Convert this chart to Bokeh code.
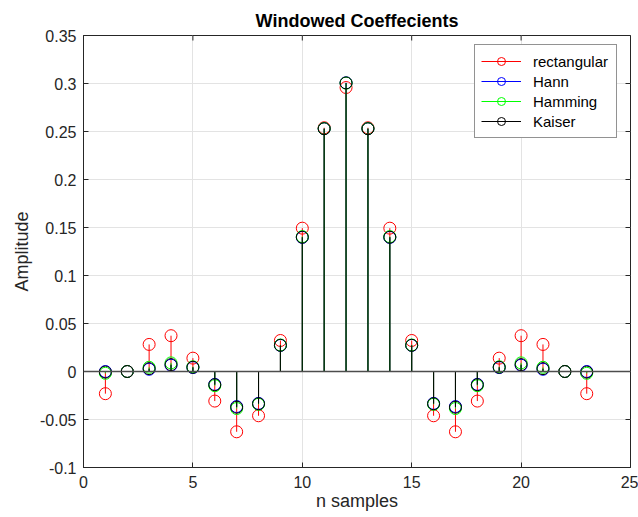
import math
from bokeh.plotting import figure
from bokeh.models import (Range1d, FixedTicker, Span, Legend, LegendItem,
                          CustomJSTickFormatter)
from bokeh.embed import file_html
from bokeh.resources import INLINE

# ---- data ----
n = list(range(1, 24))
rectangular = [-0.0231, 0.0, 0.0282, 0.0373, 0.0139, -0.0308, -0.0628, -0.0461, 0.0323, 0.1493, 0.2539, 0.2958,
               0.2539, 0.1493, 0.0323, -0.0461, -0.0628, -0.0308, 0.0139, 0.0373, 0.0282, 0.0, -0.0231]
hann = [0.0, 0.0, 0.0023, 0.0065, 0.0041, -0.0134, -0.0365, -0.0332, 0.0272, 0.1397, 0.2529, 0.3007,
        0.2529, 0.1397, 0.0272, -0.0332, -0.0365, -0.0134, 0.0041, 0.0065, 0.0023, 0.0, 0.0]
hamming = [-0.0019, 0.0, 0.0044, 0.0090, 0.0049, -0.0148, -0.0386, -0.0342, 0.0276, 0.1405, 0.2530, 0.3004,
           0.2530, 0.1405, 0.0276, -0.0342, -0.0386, -0.0148, 0.0049, 0.0090, 0.0044, 0.0, -0.0019]
kaiser = [-0.0006, 0.0, 0.0030, 0.0072, 0.0044, -0.0138, -0.0372, -0.0336, 0.0273, 0.1399, 0.2529, 0.3006,
          0.2529, 0.1399, 0.0273, -0.0336, -0.0372, -0.0138, 0.0044, 0.0072, 0.0030, 0.0, -0.0006]
series_names = ["rectangular", "Hann", "Hamming", "Kaiser"]
series_values = [rectangular, hann, hamming, kaiser]
series_colors = ["#ff0000", "#0000ff", "#00ff00", "#000000"]

xticks = [0, 5, 10, 15, 20, 25]
xtick_labels = ["0", "5", "10", "15", "20", "25"]
yticks = [-0.1, -0.05, 0, 0.05, 0.1, 0.15, 0.2, 0.25, 0.3, 0.35]
ytick_labels = ["-0.1", "-0.05", "0", "0.05", "0.1", "0.15", "0.2", "0.25", "0.3", "0.35"]
x_limits = (0, 25)
y_limits = (-0.1, 0.35)

FONT = "Liberation Sans"
AX = "#262626"

p = figure(width=638, height=517, output_backend="svg", toolbar_location=None,
           x_range=Range1d(*x_limits), y_range=Range1d(*y_limits),
           min_border_left=83, min_border_right=8, min_border_top=35, min_border_bottom=50,
           title="Windowed Coeffecients")
p.background_fill_color = "white"
p.border_fill_color = "white"
p.outline_line_color = AX
p.outline_line_width = 1

p.title.text_font = FONT
p.title.text_font_size = "18px"
p.title.text_font_style = "bold"
p.title.align = "center"
p.title.text_color = "#000000"

fmt_code = """
const i = vals.findIndex(v => Math.abs(v - tick) < 1e-9);
return i >= 0 ? labs[i] : '';
"""
xfmt = CustomJSTickFormatter(args=dict(vals=xticks, labs=xtick_labels), code=fmt_code)
yfmt = CustomJSTickFormatter(args=dict(vals=yticks, labs=ytick_labels), code=fmt_code)

for ax, ticks, fmt in ((p.xaxis[0], xticks, xfmt), (p.yaxis[0], yticks, yfmt)):
    ax.ticker = FixedTicker(ticks=ticks)
    ax.formatter = fmt
    ax.major_tick_in = 5
    ax.major_tick_out = 0
    ax.minor_tick_line_color = None
    ax.axis_line_color = AX
    ax.major_tick_line_color = AX
    ax.major_label_text_font = FONT
    ax.major_label_text_font_size = "16px"
    ax.major_label_text_color = AX
    ax.axis_label_text_font = FONT
    ax.axis_label_text_font_size = "18px"
    ax.axis_label_text_font_style = "normal"
    ax.axis_label_text_color = AX

p.xaxis[0].axis_label = "n samples"
p.yaxis[0].axis_label = "Amplitude"
p.xaxis[0].major_label_standoff = 8
p.xaxis[0].axis_label_standoff = 0
p.yaxis[0].major_label_standoff = 7
p.yaxis[0].axis_label_standoff = 5

p.xgrid.ticker = FixedTicker(ticks=xticks)
p.ygrid.ticker = FixedTicker(ticks=yticks)
p.grid.grid_line_color = "#e3e3e3"
p.grid.grid_line_width = 1

# inward box ticks on the top and right edges (half of each dash is clipped by the frame)
p.scatter(x=xticks, y=[y_limits[1]] * len(xticks), marker="dash", angle=math.pi / 2,
          size=10, line_color=AX, line_width=1)
p.scatter(x=[x_limits[1]] * len(yticks), y=yticks, marker="dash",
          size=10, line_color=AX, line_width=1)

# baseline
p.add_layout(Span(location=0, dimension="width", line_color="#4d4d4d", line_width=1.3))

items = []
for name, vals, col in zip(series_names, series_values, series_colors):
    seg = p.segment(x0=n, y0=[0] * len(n), x1=n, y1=vals, line_color=col, line_width=1)
    sc = p.scatter(x=n, y=vals, marker="circle", size=12, fill_color=None,
                   line_color=col, line_width=1)
    items.append(LegendItem(label=name, renderers=[seg, sc]))

legend = Legend(items=items, location=(391, 329))
legend.glyph_width = 40
legend.glyph_height = 20
legend.label_height = 20
legend.label_width = 77
legend.spacing = 0
legend.padding = 6
legend.margin = 0
legend.label_standoff = 12
legend.label_text_font = FONT
legend.label_text_font_size = "15px"
legend.label_text_color = "#000000"
legend.border_line_color = AX
legend.border_line_width = 1
legend.background_fill_color = "white"
legend.background_fill_alpha = 1
p.add_layout(legend)

open("out.html", "w").write(file_html(p, INLINE))
